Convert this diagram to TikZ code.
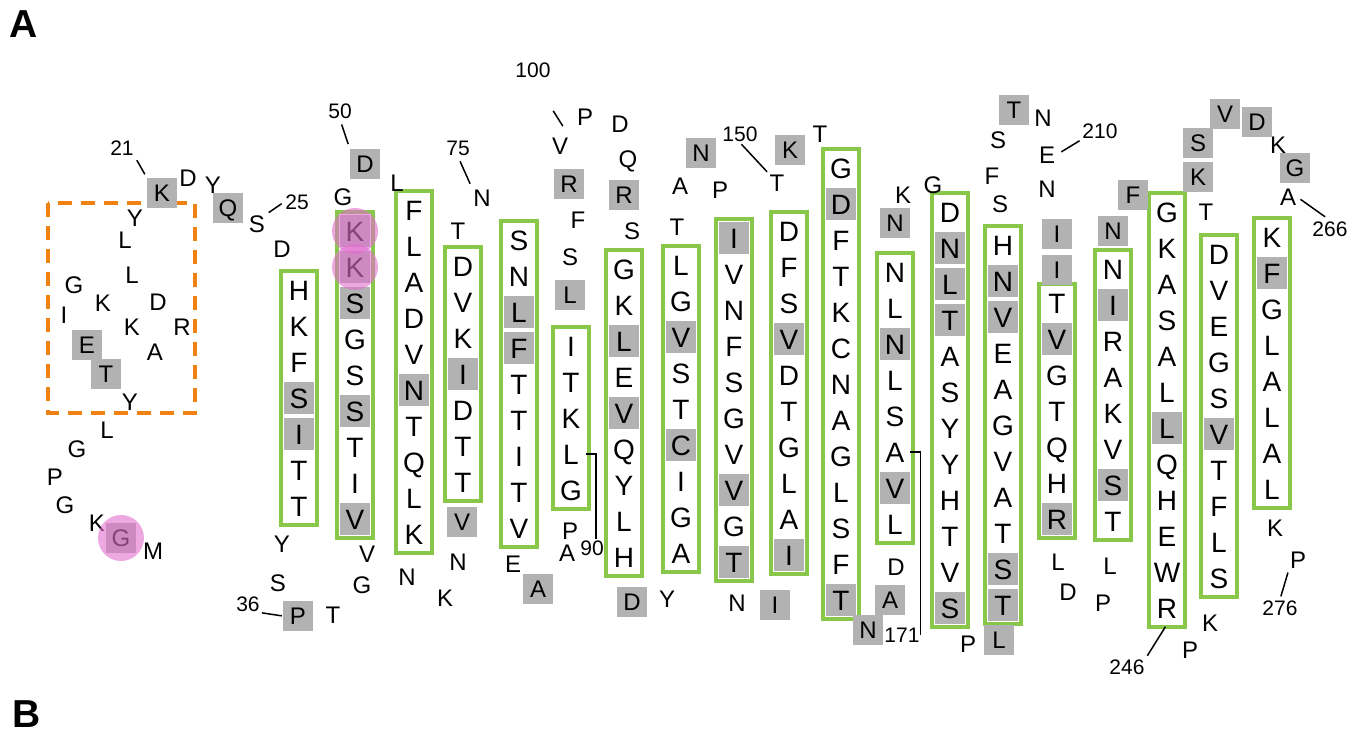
\documentclass[tikz,border=0pt]{standalone}
\usepackage{fontspec}
\setmainfont{Liberation Sans}
\usetikzlibrary{fit,backgrounds}

\definecolor{strandgreen}{RGB}{137,199,74}
\definecolor{cellgray}{RGB}{178,178,178}
\definecolor{ntermorange}{RGB}{240,130,20}
\definecolor{dotpink}{RGB}{225,110,205}

\begin{document}
\begin{tikzpicture}[x=1pt, y=-1pt,
	res/.style={font=\fontsize{28}{28}\selectfont, inner sep=0,
	            minimum width=30pt, minimum height=32pt,
	            text height=20pt, text depth=0pt},
	loopres/.style={font=\fontsize{24}{24}\selectfont, inner sep=1pt,
	                text height=17pt, text depth=0pt},
	loopbox/.style={loopres, fill=cellgray, inner sep=0,
	                minimum width=30pt, minimum height=30pt},
	numlabel/.style={font=\fontsize{21}{21}\selectfont, inner sep=1pt,
	                 text height=15pt, text depth=0pt},
	strand/.style={draw=strandgreen, line width=4pt, inner sep=3pt},
	numline/.style={line width=1.5pt, shorten <=#1, shorten >=#1},
	numline/.default=3pt,
	pinkdot/.style={fill=dotpink, fill opacity=0.6},
	panel/.style={font=\fontsize{39}{39}\selectfont\bfseries}]
	\pgfmathsetmacro{\pitch}{36}
	
	\useasboundingbox (0,0) rectangle (1365,733);
	
	% Panel letters
	\node[panel] (pa) at (24,24) {A};
	\node[panel] (pb) at (27,714) {B};
	
	% N-terminal box
	\draw[ntermorange, line width=4pt, dash pattern=on 14pt off 9pt]
	      (48,203) rectangle (195,413);
	
	% Strands
	\foreach \sx/\sy/\n/\seq [count=\st] in {
		299/290/7/{H,K,F,S,I,T,T},
		355/231/9/{K,K,S,G,S,S,T,I,V},
		414/210/10/{F,L,A,D,V,N,T,Q,L,K},
		463/266/7/{D,V,K,I,D,T,T},
		519/240/9/{S,N,L,F,T,T,I,T,V},
		571/346/5/{I,T,K,L,G},
		624/269/9/{G,K,L,E,V,Q,Y,L,H},
		681/265/9/{L,G,V,S,T,C,I,G,A},
		734/238/10/{I,V,N,F,S,G,V,V,G,T},
		789/231/10/{D,F,S,V,D,T,G,L,A,I},
		841/168/13/{G,D,F,T,K,C,N,A,G,L,S,F,T},
		895/272/8/{N,L,N,L,S,A,V,L},
		950/212/12/{D,N,L,T,A,S,Y,Y,H,T,V,S},
		1003/245/11/{H,N,V,E,A,G,V,A,T,S,T},
		1057/303/7/{T,V,G,T,Q,H,R},
		1113/269/8/{N,I,R,A,K,V,S,T},
		1167/212/12/{G,K,A,S,A,L,L,Q,H,E,W,R},
		1219/254/10/{D,V,E,G,S,V,T,F,L,S},
		1272/237/8/{K,F,G,L,A,L,A,L}}{
		\foreach \aa [count=\i] in \seq {
			\pgfmathsetmacro{\posy}{\sy + (\i-1)*\pitch}
			\node[res] (s\st-\i) at (\sx, \posy) {\aa};
		}
		\node[strand, fit=(s\st-1)(s\st-\n)] (box\st) {};
	}
	
	% Shaded residues in strands
	\begin{pgfonlayer}{background}
		\foreach \st/\i in {1/4,1/5,2/1,2/2,2/3,2/6,2/9,3/6,4/4,5/3,5/4,
		                    7/3,7/5,8/3,8/6,9/1,9/8,9/10,10/4,10/10,
		                    11/2,11/13,12/3,12/7,13/2,13/3,13/4,13/12,
		                    14/2,14/3,14/10,14/11,15/2,15/7,16/2,16/7,
		                    17/7,18/6,19/2}
			\fill[cellgray] (s\st-\i.south west) rectangle (s\st-\i.north east);
	\end{pgfonlayer}
	
	% Loop residues
	\foreach \px/\py/\aa [count=\i] in {
		153/551/M, 97/523/K, 65/505/G, 55/477/P, 77/449/G, 107/430/L,
		130/402/Y, 64/315/I, 74/285/G, 103/303/K, 132/327/K, 155/352/A,
		182/327/R, 158/302/D, 132/275/L, 125/240/L, 135/218/Y, 188/178/D,
		213/185/Y, 282/249/D, 282/544/Y, 278/583/S, 333/615/T, 362/585/G,
		367/554/V, 343/197/G, 397/183/L, 407/577/N, 445/598/K, 458/562/N,
		458/231/T, 513/564/E, 567/553/A, 570/531/P, 570/257/S, 578/220/F,
		585/117/P, 620/124/D, 628/159/Q, 632/231/S, 667/599/Y, 677/227/T,
		680/186/A, 720/190/P, 737/603/N, 820/134/T, 896/567/D, 903/195/K,
		933/185/G, 968/644/P, 1000/204/S, 992/176/F, 998/140/S, 1043/118/N,
		1047/189/N, 1058/562/L, 1068/592/D, 1103/603/P, 1110/566/L,
		1190/650/P, 1210/623/K, 1206/212/T, 1278/145/K, 1275/528/K}
		\node[loopres] (lp\i) at (\px,\py) {\aa};
	
	\foreach \px/\py/\aa [count=\i] in {
		121/538/G, 87/345/E, 106/374/T, 228/208/Q, 462/522/V, 538/589/A,
		570/295/L, 569/184/R, 624/195/R, 632/602/D, 701/153/N, 775/605/I,
		790/150/K, 868/630/N, 890/600/A, 895/223/N, 999/640/L, 1014/110/T,
		1057/234/I, 1057/270/I, 1113/231/N, 1133/195/F, 1198/177/K,
		1198/143/S, 1225/114/V, 1257/122/D, 1295/168/G}
		\node[loopbox] (gb\i) at (\px,\py) {\aa};
	
	% Numbered residues
	\node[loopbox] (k21) at (162,193) {K};
	\node[loopres] (s25) at (257,224) {S};
	\node[loopbox] (p36) at (298,616) {P};
	\node[loopbox] (d50) at (365,164) {D};
	\node[loopres] (n75) at (482,198) {N};
	\node[loopres] (v100) at (560,146) {V};
	\node[loopres] (t150) at (777,183) {T};
	\node[loopres] (e210) at (1047,155) {E};
	\node[loopres] (a266) at (1288,197) {A};
	\node[loopres] (p276) at (1298,560) {P};
	
	\node[numlabel] (l21) at (122,148) {21};
	\node[numlabel] (l25) at (297,202) {25};
	\node[numlabel] (l36) at (248,604) {36};
	\node[numlabel] (l50) at (340,111) {50};
	\node[numlabel] (l75) at (458,148) {75};
	\node[numlabel] (l90) at (592,548) {90};
	\node[numlabel] (l100) at (533,70) {100};
	\node[numlabel] (l150) at (740,134) {150};
	\node[numlabel] (l171) at (902,635) {171};
	\node[numlabel] (l210) at (1100,131) {210};
	\node[numlabel] (l246) at (1127,667) {246};
	\node[numlabel] (l266) at (1330,229) {266};
	\node[numlabel] (l276) at (1280,608) {276};
	
	\draw[numline=4pt] (l21.south east) -- (k21.north west);
	\draw[numline] (s25.north east) -- (l25.west);
	\draw[numline=1pt] (l36.south east) -- (p36.west);
	\draw[numline=5pt] (l50.south) -- (d50.north west);
	\draw[numline=5pt] (l75.south) -- (n75.north west);
	\draw[numline, shorten <=38pt, shorten >=12pt] (l100.south) -- (v100.north east);
	\draw[numline=2pt] (l150.south) -- (t150.north west);
	\draw[numline, shorten <=6pt, shorten >=2pt] (e210.east) -- (l210.south west);
	\draw[numline] (l246.north east) -- (s17-12.south);
	\draw[numline, shorten <=4pt, shorten >=6pt] (a266.east) -- (l266.north);
	\draw[numline] (p276.south west) -- (l276.north);
	\draw[line width=1.5pt] (s6-4.east) -| ([xshift=4pt]l90.north);
	\draw[line width=1.5pt] (s12-6.east) -| (l171.east);
	
	% Cross-link sites
	\fill[pinkdot] (s2-1) circle[radius=23pt];
	\fill[pinkdot] (s2-2) circle[radius=23pt];
	\fill[pinkdot] (gb1) circle[radius=23pt];
	
\end{tikzpicture}
\end{document}
